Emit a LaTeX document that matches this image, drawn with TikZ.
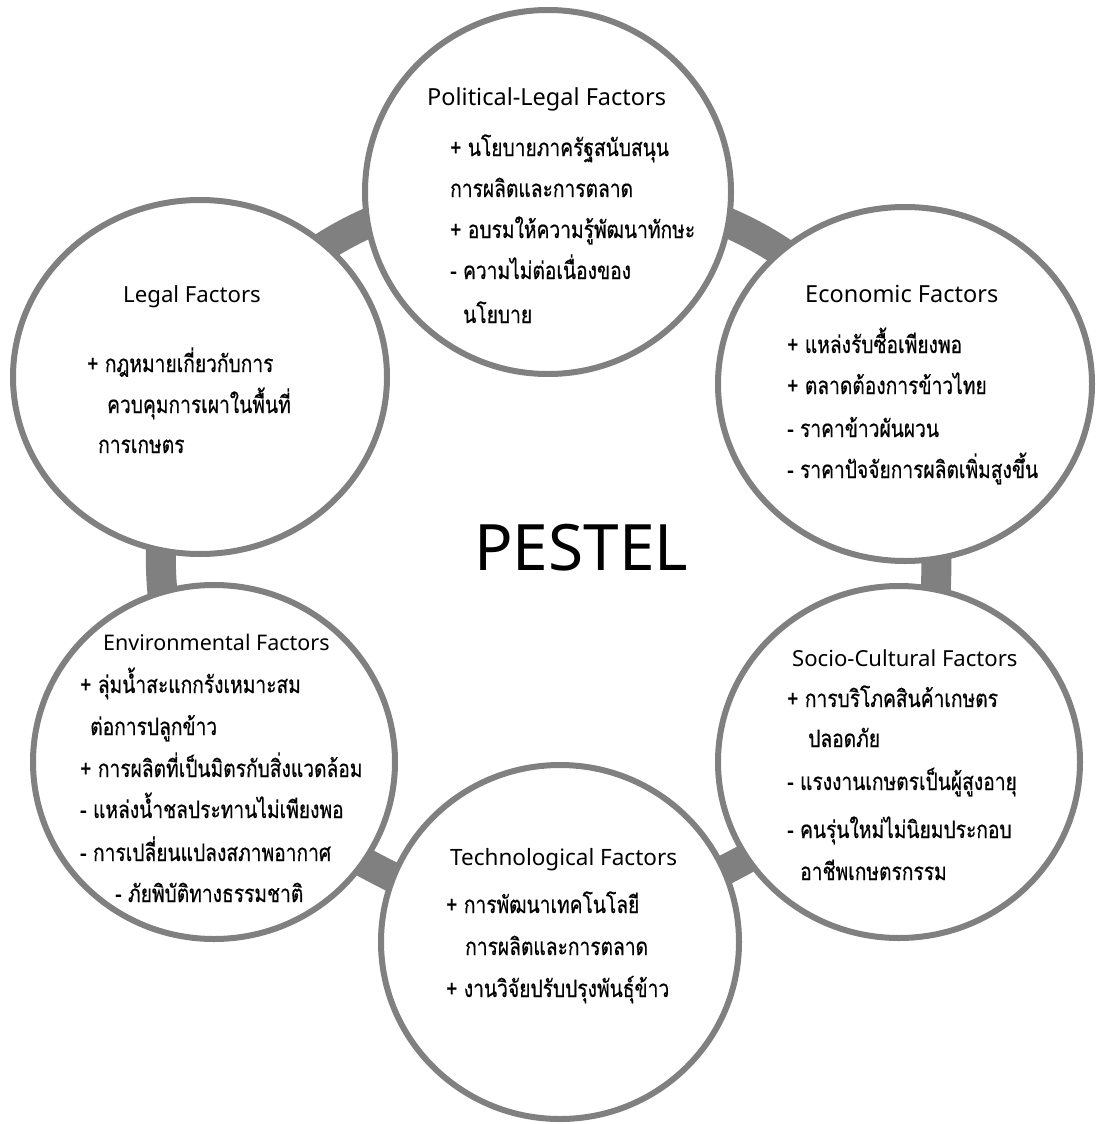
\documentclass[tikz,border=0pt]{standalone}
\usepackage{fontspec}
\setmainfont{Noto Sans}
\newfontfamily\thaifont[Script=Thai, FakeStretch=0.8, FakeBold=0.5]{Loma}
\usetikzlibrary{shapes.geometric}
\pgfdeclarelayer{bg}
\pgfsetlayers{bg,main}
\definecolor{ringgray}{RGB}{128,128,128}
\tikzset{
  factor/.style n args={2}{shape=ellipse, draw=ringgray, line width=6pt, fill=white,
    inner sep=0pt, minimum width=#1, minimum height=#2},
  bar/.style={draw=ringgray, line width=30pt},
  head/.style={anchor=base west, inner sep=0pt, font=\fontsize{#1}{27}\selectfont},
  head/.default=23.5,
  item/.style={anchor=base west, inner sep=0pt, font=\thaifont\fontsize{24}{28}\selectfont},
  bigtitle/.style={anchor=base west, inner sep=0pt, font=\fontsize{64}{70}\selectfont}
}
\begin{document}
\begin{tikzpicture}[x=1pt, y=-1pt]
\useasboundingbox (0,0) rectangle (1097,1124);
% circles
\node[factor={366pt}{364pt}] (pol) at (548,192) {};
\node[factor={374pt}{354pt}] (leg) at (200,377) {};
\node[factor={374pt}{354pt}] (eco) at (905,384) {};
\node[factor={362pt}{352pt}] (soc) at (899,762) {};
\node[factor={362pt}{354pt}] (env) at (214,762) {};
\node[factor={358pt}{354pt}] (tec) at (560,942) {};
% connecting bars
\begin{pgfonlayer}{bg}
\fill[white] (0,0) rectangle (1097,1124);
\draw[bar] (pol.center) to[bend left=30] (eco.center);
\draw[bar] (eco.center) to[bend left=18] (soc.center);
\draw[bar] (soc.center) to[bend left=7] (tec.center);
\draw[bar] (tec.center) to[bend left=10] (env.center);
\draw[bar] (env.center) to[bend left=24] (leg.center);
\draw[bar] (leg.center) to[bend left=30] (pol.center);
\end{pgfonlayer}
% title
\node[bigtitle] (pestel) at (474,570) {PESTEL};
% Political-Legal
\node[head] (polh) at (427,105) {Political-Legal Factors};
\node[item] (pol1) at (450,156) {+ นโยบายภาครัฐสนับสนุน};
\node[item] (pol2) at (450,197) {การผลิตและการตลาด};
\node[item] (pol3) at (450,238) {+ อบรมให้ความรู้พัฒนาทักษะ};
\node[item] (pol4) at (450,279) {- ความไม่ต่อเนื่องของ};
\node[item] (pol5) at (463,323) {นโยบาย};
% Legal
\node[head=22.2] (legh) at (123,302) {Legal Factors};
\node[item] (leg1) at (87,372) {+ กฎหมายเกี่ยวกับการ};
\node[item] (leg2) at (107,413) {ควบคุมการเผาในพื้นที่};
\node[item] (leg3) at (98,453) {การเกษตร};
% Economic
\node[head] (ecoh) at (805,302) {Economic Factors};
\node[item] (eco1) at (787,353) {+ แหล่งรับซื้อเพียงพอ};
\node[item] (eco2) at (787,394) {+ ตลาดต้องการข้าวไทย};
\node[item] (eco3) at (787,437) {- ราคาข้าวผันผวน};
\node[item] (eco4) at (787,478) {- ราคาปัจจัยการผลิตเพิ่มสูงขึ้น};
% Environmental
\node[head=21.5] (envh) at (103,650) {Environmental Factors};
\node[item] (env1) at (80,693) {+ ลุ่มน้ำสะแกกรังเหมาะสม};
\node[item] (env2) at (90,735) {ต่อการปลูกข้าว};
\node[item] (env3) at (80,777) {+ การผลิตที่เป็นมิตรกับสิ่งแวดล้อม};
\node[item] (env4) at (80,818) {- แหล่งน้ำชลประทานไม่เพียงพอ};
\node[item] (env5) at (80,861) {- การเปลี่ยนแปลงสภาพอากาศ};
\node[item] (env6) at (115,902) {- ภัยพิบัติทางธรรมชาติ};
% Socio-Cultural
\node[head=22.1] (soch) at (792,666) {Socio-Cultural Factors};
\node[item] (soc1) at (787,707) {+ การบริโภคสินค้าเกษตร};
\node[item] (soc2) at (808,747) {ปลอดภัย};
\node[item] (soc3) at (787,790) {- แรงงานเกษตรเป็นผู้สูงอายุ};
\node[item] (soc4) at (787,838) {- คนรุ่นใหม่ไม่นิยมประกอบ};
\node[item] (soc5) at (800,880) {อาชีพเกษตรกรรม};
% Technological
\node[head=22.5] (tech) at (450,865) {Technological Factors};
\node[item] (tec1) at (446,913) {+ การพัฒนาเทคโนโลยี};
\node[item] (tec2) at (465,955) {การผลิตและการตลาด};
\node[item] (tec3) at (446,997) {+ งานวิจัยปรับปรุงพันธุ์ข้าว};
\end{tikzpicture}
\end{document}
